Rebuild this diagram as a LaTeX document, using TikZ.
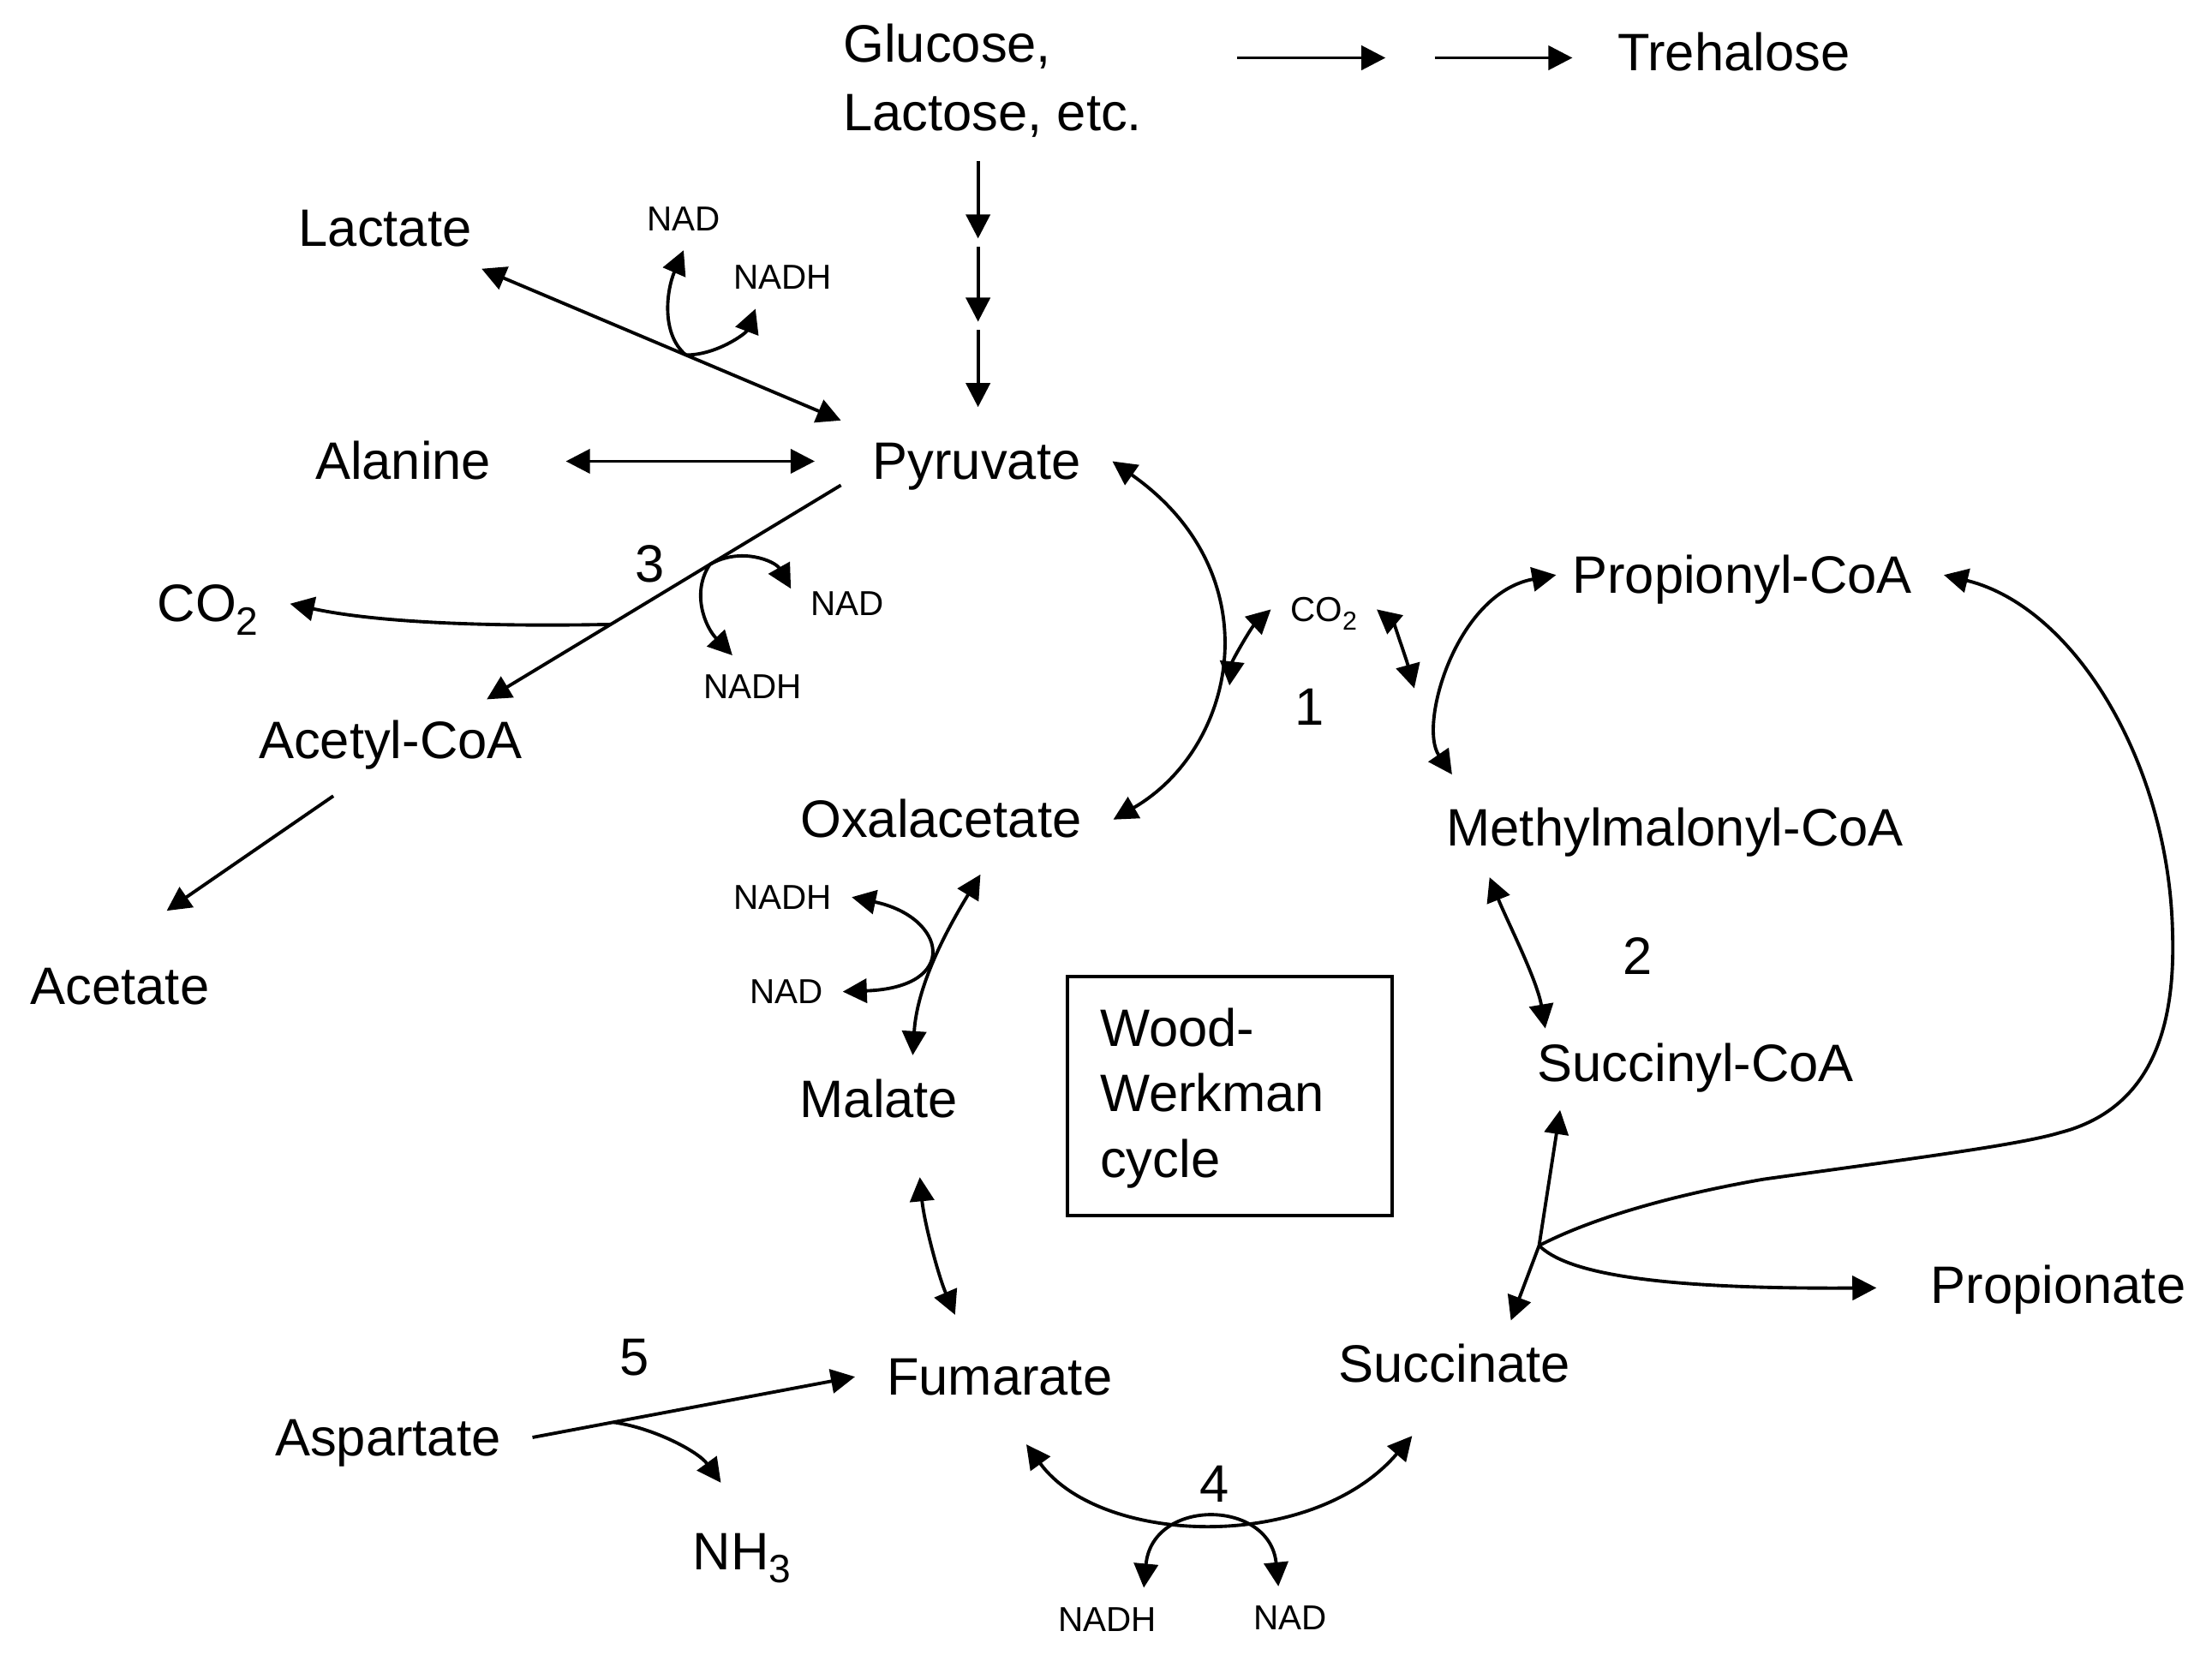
\documentclass[tikz,border=0pt]{standalone}
\usepackage{fontspec}
\usepackage{graphicx}
\setmainfont{Liberation Sans}
\usetikzlibrary{arrows.meta,calc}
\newcommand{\chemlo}[1]{\raisebox{-0.25em}{\scalebox{0.75}{#1}}}
\begin{document}
\begin{tikzpicture}[x=0.46853pt, y=-0.46853pt, line width=1.1pt,
    >={Triangle[length=8pt,width=8pt]},
    metab/.style={font=\fontsize{17.5}{22}\selectfont, inner xsep=10pt, inner ysep=7pt, text height=12pt, text depth=0pt},
    cofac/.style={font=\fontsize{11.5}{14}\selectfont, inner sep=6pt, text height=7.9pt, text depth=0pt}]
    \useasboundingbox (0,0) rectangle (1568,1177.5);
    \node[font=\fontsize{17.5}{22.7}\selectfont, align=left, anchor=north west, inner sep=0pt] (glc) at (596.6,15.8) {Glucose,\\Lactose, etc.};
    \node[metab] (tre) at (1229,37) {Trehalose};
    \node[metab] (lac) at (273,161.6) {Lactate};
    \node[cofac] (nad1) at (484.6,155) {NAD};
    \node[cofac] (nadh1) at (555,196.5) {NADH};
    \node[metab] (pyr) at (692.3,327) {Pyruvate};
    \node[metab] (ala) at (285.8,327) {Alanine};
    \node[metab] (n3) at (460.7,400) {3};
    \node[metab] (co2a) at (147.3,428) {CO\chemlo{2}};
    \node[cofac] (nad2) at (600.5,428) {NAD};
    \node[cofac] (nadh2) at (533.7,487) {NADH};
    \node[metab] (acc) at (276.9,524.7) {Acetyl-CoA};
    \node[metab] (ace) at (85,699.5) {Acetate};
    \node[metab] (oxa) at (667,581) {Oxalacetate};
    \node[cofac] (co2b) at (938.4,432) {CO\chemlo{2}};
    \node[metab] (n1) at (928.5,501.5) {1};
    \node[metab] (ppc) at (1235,407.6) {Propionyl-CoA};
    \node[metab] (mmc) at (1187.3,587) {Methylmalonyl-CoA};
    \node[metab] (n2) at (1161,678) {2};
    \node[metab] (scc) at (1202,754) {Succinyl-CoA};
    \node[draw, font=\fontsize{17.5}{21.8}\selectfont, align=left, text width=86.2pt, inner xsep=10.8pt, inner ysep=0pt, minimum height=79.6pt] (ww) at (871.8,777) {\rule{0pt}{14pt}Wood-\\Werkman\\cycle};
    \node[cofac] (nadh3) at (555,636) {NADH};
    \node[cofac] (nad3) at (557.5,703) {NAD};
    \node[metab] (mal) at (623,779.6) {Malate};
    \node[metab] (fum) at (708.5,976) {Fumarate};
    \node[metab] (suc) at (1031,967) {Succinate};
    \node[metab] (ppn) at (1459,911) {Propionate};
    \node[metab] (n5) at (449.6,962) {5};
    \node[metab] (asp) at (275,1019) {Aspartate};
    \node[metab] (nh3) at (526,1100) {NH\chemlo{3}};
    \node[metab] (n4) at (861,1052) {4};
    \node[cofac] (nadh4) at (785,1148) {NADH};
    \node[cofac] (nad4) at (914.8,1147) {NAD};
    % sugars
    \foreach \a/\b in {-247/-142,-107/-9.5}
        {
            \draw[->] ([shift={(\a,4)}]tre.west) -- ([shift={(\b,4)}]tre.west);
        }
    \foreach \a/\b in {-184/-129,-123/-70,-64/-9.5}
        {
            \draw[->] ([shift={(1,\a)}]pyr.north) -- ([shift={(1,\b)}]pyr.north);
        }
    % pyruvate side
    \draw[<->] (lac) -- (pyr.north west);
    \coordinate (j1) at ($(lac)!0.66!(pyr.north west)$);
    \draw[->] (j1) .. controls +(-18,-15) and +(-12,28) .. (nad1.south);
    \draw[->] (j1) .. controls +(22,0) and +(-6.6,17.3) .. (nadh1.229);
    \draw[<->, shorten <=14.3pt, shorten >=8.7pt] (ala.east) -- (pyr.west);
    \draw[->] (pyr.190) -- (acc.23);
    \coordinate (j3) at ($(pyr.190)!0.65!(acc.23)$);
    \coordinate (j3b) at ($(pyr.190)!0.37!(acc.23)$);
    \draw[->] (j3) .. controls +(-101,2) and +(55,12) .. (co2a.east);
    \draw[->] (j3b) .. controls +(22,-12.7) and +(-11,-19.5) .. (nad2.165);
    \draw[->] (j3b) .. controls +(-13,19.3) and +(-20,-21) .. (nadh2.123);
    \draw[->, shorten <=8.8pt, shorten >=20.6pt] (acc.229) -- (ace.96);
    % cycle
    \draw[<->] (pyr.east) .. controls +(114,80) and +(88,-51) .. (oxa.east);
    \draw[<->] ([shift={(-29.4,54)}]co2b.west) .. controls +(2,-18) and +(-14,13) .. (co2b.west);
    \draw[<->] (co2b.east) .. controls +(12,10) and +(-6,-22) .. ([shift={(26.6,56)}]co2b.east);
    \draw[<->] ([shift={(11,0)}]ppc.west) .. controls +(-71,13) and +(-24,-35) .. ([shift={(26.4,-9)}]mmc.north west);
    \draw[<->] ([shift={(53,6)}]mmc.south west) .. controls +(12,30) and +(-6,-35) .. ([shift={(28,4)}]scc.north west);
    \coordinate (jS) at (1091,883);
    \draw[<->] ([shift={(38.5,4)}]scc.south west) -- (jS) -- ([shift={(40,-2)}]suc.north);
    \draw[->] (jS) .. controls (1120,868) and (1170,850) .. (1250,836) .. controls (1350,822) and (1430,812) .. (1460,803) .. controls (1530,785) and (1542,720) .. (1540,660) .. controls (1537,540) and (1470,430) .. (ppc.east);
    \draw[->] (jS) .. controls (1110,902) and (1170,914) .. ([shift={(-16,2)}]ppn.west);
    \draw[<->] ([shift={(28,10)}]oxa.south) .. controls +(-25,41) and +(3,-49) .. ([shift={(24,-2.6)}]mal.north);
    \draw[<->] (nadh3.east) .. controls +(67,14) and +(84,-3) .. (nad3.east);
    \draw[<->] ([shift={(29,26)}]mal.south) .. controls +(3,31.5) and +(-12,-28) .. ([shift={(-31.5,-15)}]fum.north);
    \draw[->] (asp.east) -- (fum.west);
    \coordinate (jA) at ($(asp.east)!0.25!(fum.west)$);
    \draw[->] (jA) .. controls +(29,4) and +(-16,-22) .. ([shift={(-15,-20)}]nh3.north);
    \draw[<->] ([shift={(19,19)}]fum.south) .. controls +(52.5,72) and +(-71,83) .. ([shift={(-30,22)}]suc.south);
    \draw[<->] (nadh4.41) .. controls +(6,-64) and +(-6,-62) .. (nad4.111);
\end{tikzpicture}
\end{document}
